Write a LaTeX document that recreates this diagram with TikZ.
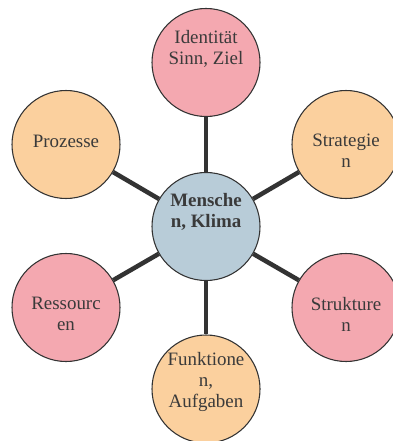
\documentclass[tikz,border=0pt]{standalone}
\usepackage{fontspec}
\setmainfont{Liberation Serif}
\usetikzlibrary{positioning}
\definecolor{bubblepink}{HTML}{F4A8B0}
\definecolor{bubbleorange}{HTML}{FBD09E}
\definecolor{bubbleblue}{HTML}{B8CCD8}
\definecolor{rimgray}{HTML}{333333}
\definecolor{textgray}{HTML}{3A3A3A}

\begin{document}
\begin{tikzpicture}[x=0.75pt, y=-0.75pt,
  bubble/.style={circle, draw=rimgray, line width=0.8pt, minimum size=81pt, inner sep=0pt},
  caption/.style={align=center, text=textgray, font=\fontsize{14.2}{15.8}\selectfont},
  spoke/.style={line width=3.4pt, draw=rimgray}]
  \useasboundingbox (0,0) rectangle (392,441);
  % bubbles
  \node[bubble, fill=bubbleblue]   (mitte)      at (206,226.5) {};
  \node[bubble, fill=bubblepink]   (oben)       at (206,62.5)  {};
  \node[bubble, fill=bubbleorange] (rechtsoben) at (346,144.5) {};
  \node[bubble, fill=bubblepink]   (rechtsunten) at (346,307.5) {};
  \node[bubble, fill=bubbleorange] (unten)      at (206,389)   {};
  \node[bubble, fill=bubblepink]   (linksunten) at (66,307.5)  {};
  \node[bubble, fill=bubbleorange] (linksoben)  at (66,144.5)  {};
  % texts
  \node[caption, font=\fontsize{14.2}{15.8}\selectfont\bfseries] (mittetext) at (206,211.5) {Mensche\\n, Klima};
  \node[caption] (obentext)        at (206,48.5)  {Identität\\Sinn, Ziel};
  \node[caption] (rechtsobentext)  at (346,151)   {Strategie\\n};
  \node[caption] (rechtsuntentext) at (346,314)   {Strukture\\n};
  \node[caption] (untentext)       at (206,382)   {Funktione\\n,\\Aufgaben};
  \node[caption] (linksuntentext)  at (66,314)    {Ressourc\\en};
  \node[caption] (linksobentext)   at (66,141)    {Prozesse};
  % spokes
  \foreach \n in {oben, rechtsoben, rechtsunten, unten, linksunten, linksoben}
    \draw[spoke] (mitte) -- (\n);
\end{tikzpicture}
\end{document}
